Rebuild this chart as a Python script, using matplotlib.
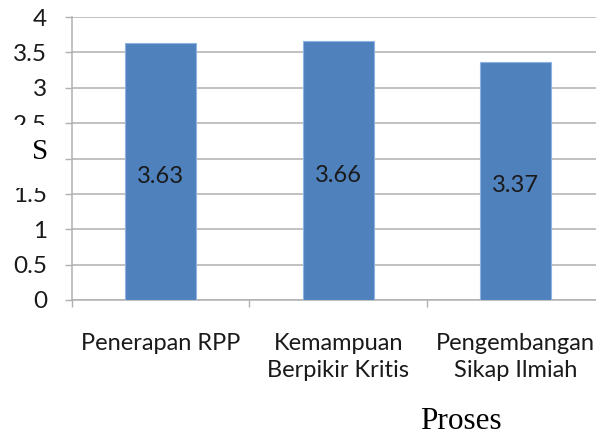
import matplotlib
matplotlib.use('Agg')
import matplotlib.pyplot as plt
from matplotlib.patches import Rectangle

categories = ['Penerapan RPP', 'Kemampuan\nBerpikir Kritis', 'Pengembangan\nSikap Ilmiah']
values = [3.63, 3.66, 3.37]
y_ticks = [0, 0.5, 1, 1.5, 2, 2.5, 3, 3.5, 4]
y_tick_labels = ['0', '0.5', '1', '1.5', '2', '2.5', '3', '3.5', '4']

W, H = 596, 436
fig = plt.figure(figsize=(W / 100, H / 100), dpi=100)
ax = fig.add_axes([72 / W, 136 / H, 532.5 / W, 283 / H])

sans = 'Lato'
grid_col = '#B0B0B0'

x = list(range(len(categories)))
ax.bar(x, values, width=0.4, color='#4F81BD', edgecolor='#8DB3E2', linewidth=0.8, zorder=3)

for xi, v in zip(x, values):
    ax.text(xi, v / 2 - 0.04, f'{v:.2f}', ha='center', va='center_baseline', fontsize=17,
            family=sans, color='#1a1a1a', zorder=4)

ax.set_xlim(-0.5, 2.5)
ax.set_ylim(0, 4)
ax.set_yticks(y_ticks)
ax.set_yticklabels(y_tick_labels, family=sans, fontsize=17.5, color='#1a1a1a')
ax.set_xticks(x)
ax.set_xticklabels(categories, family=sans, fontsize=17, color='#1a1a1a', linespacing=1.35)
ax.set_xticks([-0.5, 0.5, 1.5, 2.5], minor=True)

ax.tick_params(axis='x', which='major', length=0, pad=24)
ax.tick_params(axis='x', which='minor', length=5, width=1, color=grid_col, direction='out')
ax.tick_params(axis='y', length=5, width=1, color=grid_col, direction='out', pad=13)

ax.yaxis.grid(True, color=grid_col, linewidth=1.1, zorder=0)
ax.set_axisbelow(True)
for s in ['top', 'right']:
    ax.spines[s].set_visible(False)
for s in ['left', 'bottom']:
    ax.spines[s].set_color(grid_col)
    ax.spines[s].set_linewidth(1.1)

# overlapping "S" box from the original y label
fig.patches.append(Rectangle((8 / W, 1 - 188 / H), 44 / W, 63 / H, transform=fig.transFigure,
                             facecolor='white', edgecolor='none', zorder=10))
fig.text(40 / W, 1 - 152 / H, 'S', family='Liberation Serif', fontsize=21,
         ha='center', va='center', zorder=11)

fig.text(461 / W, 1 - 421 / H, 'Proses', family='Liberation Serif', fontsize=22.5,
         ha='center', va='center')

fig.savefig('out.png', dpi=100)
